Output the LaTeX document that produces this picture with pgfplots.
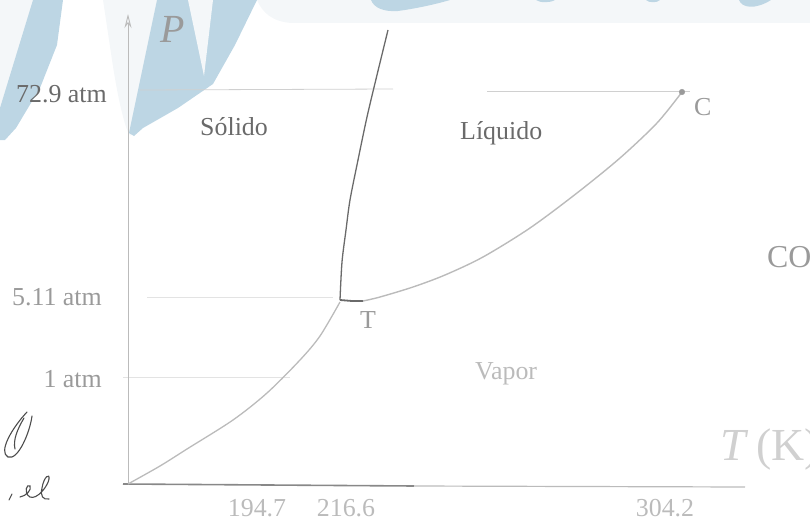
\documentclass[border=0pt]{standalone}
\usepackage{pgfplots}
\pgfplotsset{compat=1.18}
\usepackage{fontspec}
\setmainfont{Liberation Serif}
\usetikzlibrary{arrows.meta}

\definecolor{wmblue}{HTML}{BDD6E4}
\definecolor{wmpale}{HTML}{F4F7F9}
\definecolor{inkA}{HTML}{6A6A6A}
\definecolor{inkB}{HTML}{9A9A9A}
\definecolor{inkC}{HTML}{BBBBBB}
\definecolor{inkD}{HTML}{D0D0D0}

\tikzset{
  lbl/.style={font=\fontsize{26}{30}\selectfont, inner sep=0pt},
  hand/.style={draw=black!70, line width=1.1pt, line cap=round},
}

\begin{document}
\begin{tikzpicture}
\path[use as bounding box, clip] (0,0) rectangle (810bp,527bp);
\begin{axis}[
  at={(0,0)}, anchor=south west,
  scale only axis, width=810bp, height=527bp,
  xmin=0, xmax=810, ymin=0, ymax=527,
  y dir=reverse,
  hide axis, clip=false,
]

% --- background stamp shapes along the top edge
\fill[wmpale] (0,0) -- (33,0) -- (0,112) -- cycle;
\fill[wmpale] (103,0) -- (157,0) -- (131,136) .. controls (126,134) and (118,100) .. (112,60) -- cycle;
\fill[wmpale] (257,0) -- (810,0) -- (810,23) -- (292,23) .. controls (272,22) and (262,12) .. (257,0) -- cycle;
\fill[wmblue] (33,0) -- (63,0) -- (57,45) -- (40,88) -- (16,128) -- (5,140) -- (0,140) -- (0,108) -- cycle;
\fill[wmblue] (157,0) -- (257,0) -- (235,45) -- (213,84) -- (178,108) -- (143,128)
  -- (134,136) -- (129,133) -- cycle;
\fill[wmpale] (188,0) -- (213,0) -- (204,76) -- cycle;
\fill[wmblue] (371,0) .. controls (374,8) and (384,12) .. (398,11) .. controls (420,8) and (440,3) .. (450,0) -- cycle;
\fill[wmblue] (536,0) .. controls (540,3) and (550,3) .. (555,0) -- cycle;
\fill[wmblue] (646,0) .. controls (649,3) and (657,3) .. (660,0) -- cycle;
\fill[wmblue] (739,0) .. controls (742,8) and (755,10) .. (771,0) -- cycle;

% --- reference pressure levels
\addplot[inkD, line width=0.8pt] coordinates {(140,90) (393,89)};
\addplot[inkD, line width=0.8pt] coordinates {(487,91) (690,91)};
\addplot[inkD!60, line width=0.8pt] coordinates {(147,297) (333,297)};
\addplot[inkD!60, line width=0.8pt] coordinates {(123,377) (290,377)};

% --- axes
\addplot[inkC, line width=0.9pt, -{Stealth[length=14bp, width=7bp, open]}] coordinates {(128,484) (128,14)};
\addplot[inkA!80, line width=1.6pt] coordinates {(123,484) (414,486)};
\addplot[inkC, line width=1.2pt] coordinates {(414,486) (745,487)};

% --- sublimation curve (solid-vapour)
\addplot[inkC, line width=1.3pt, smooth] coordinates {
  (128,484) (160,466) (187,449) (233,420) (267,393) (300,360) (320,336) (340,302)};
% --- melting curve (solid-liquid)
\addplot[inkA, line width=1.3pt, smooth] coordinates {
  (340,300) (342,262) (346,230) (350,200) (358,160) (367,117) (377,75) (388,30)};
% --- vaporization curve (liquid-vapour)
\addplot[inkA, line width=1.8pt] coordinates {(340,300) (352,301) (363,301)};
\addplot[inkC, line width=1.4pt, smooth] coordinates {
  (363,301) (380,297) (413,287) (445,275) (483,257) (530,228) (577,193) (620,158) (657,123) (682,92)};
% --- critical point
\addplot[only marks, mark=*, mark size=2.8pt, inkB] coordinates {(682,92)};

% --- labels
\node[lbl, text=inkA, anchor=base east] at (107,102) {72.9 atm};
\node[lbl, text=inkB, anchor=base east] at (102,305) {5.11 atm};
\node[lbl, text=inkB, anchor=base east] at (102,387) {1 atm};
\node[lbl, text=inkA, anchor=base west] at (200,135) {Sólido};
\node[lbl, text=inkA, anchor=base west] at (460,139) {Líquido};
\node[lbl, text=inkC, anchor=base west] at (475,379) {Vapor};
\node[lbl, text=inkB, anchor=base west] at (694,115) {C};
\node[lbl, text=inkB, anchor=base west] at (360,328) {T};
\node[lbl, text=inkC, anchor=base] at (257,516) {194.7};
\node[lbl, text=inkC, anchor=base] at (346,516) {216.6};
\node[lbl, text=inkC, anchor=base] at (665,516) {304.2};
\node[inner sep=0pt, text=inkB, font=\fontsize{40}{44}\selectfont\itshape, anchor=base west] at (160,43) {P};
\node[inner sep=0pt, text=inkB, font=\fontsize{32}{36}\selectfont, anchor=base west] at (767,267) {CO\textsubscript{2}};
\node[inner sep=0pt, text=inkD, font=\fontsize{46}{50}\selectfont, anchor=base west] at (720,460) {\textit{T}\,(K)};

% --- pen marks in the margin
\draw[hand] (27,412) .. controls (12,428) and (-2,452) .. (8,457) .. controls (18,461) and (30,432) .. (32,416);
\draw[hand] (24,418) .. controls (17,430) and (13,440) .. (15,449);
\draw[hand] (12,494) -- (9,500);
\draw[hand] (20,497) .. controls (26,496) and (32,490) .. (30,486) .. controls (27,483) and (23,493) .. (30,497)
  .. controls (37,500) and (48,486) .. (49,479) .. controls (50,473) and (44,476) .. (42,488)
  .. controls (40,496) and (43,500) .. (49,499);

\end{axis}
\end{tikzpicture}
\end{document}
